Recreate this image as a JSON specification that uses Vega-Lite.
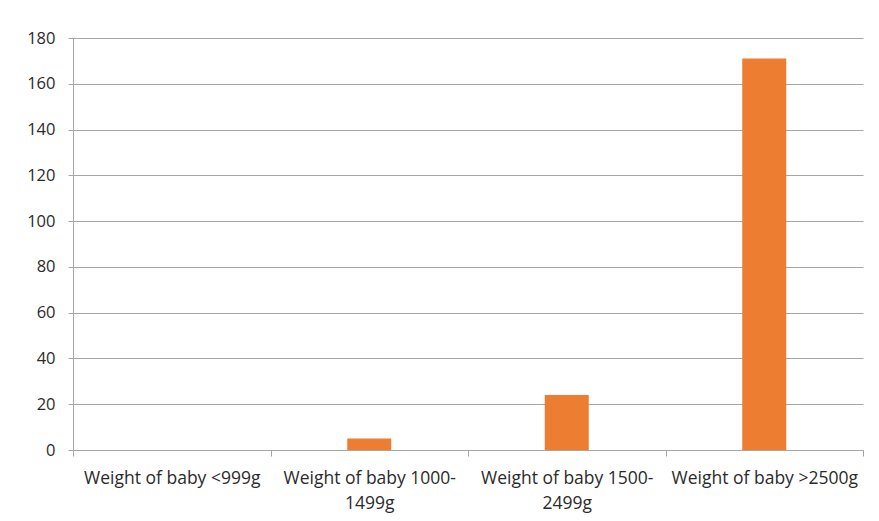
{
  "$schema": "https://vega.github.io/schema/vega-lite/v6.json",
  "width": 790,
  "height": 412,
  "autosize": {"type": "none"},
  "padding": {"left": 73, "top": 38, "right": 16, "bottom": 71},
  "background": "white",
  "config": {
    "view": {"stroke": null},
    "font": "Open Sans",
    "axis": {"labelFont": "Open Sans", "labelColor": "#2b2b2b"}
  },
  "data": {
    "values": [
      {"category": "Weight of baby <999g", "count": 0},
      {"category": "Weight of baby 1000-1499g", "count": 5},
      {"category": "Weight of baby 1500-2499g", "count": 24},
      {"category": "Weight of baby >2500g", "count": 171}
    ]
  },
  "mark": {"type": "bar", "color": "#ED7D31", "size": 44},
  "encoding": {
    "x": {
      "field": "category",
      "type": "nominal",
      "sort": null,
      "scale": {"paddingInner": 0, "paddingOuter": 0},
      "axis": {
        "title": null,
        "labelAngle": 0,
        "labelLimit": 0,
        "labelFontSize": 17.5,
        "labelPadding": 13,
        "labelBaseline": "top",
        "labelLineHeight": 25,
        "labelExpr": "split(replace(datum.label, '-', '-|'), '|')",
        "tickBand": "extent",
        "tickColor": "#A6A6A6",
        "tickSize": 6,
        "domainColor": "#A6A6A6",
        "grid": false
      }
    },
    "y": {
      "field": "count",
      "type": "quantitative",
      "scale": {"domain": [0, 180], "nice": false},
      "axis": {
        "title": null,
        "values": [0, 20, 40, 60, 80, 100, 120, 140, 160, 180],
        "labelFontSize": 16.5,
        "grid": true,
        "gridColor": "#A6A6A6",
        "tickColor": "#A6A6A6",
        "tickSize": 5,
        "domainColor": "#A6A6A6",
        "labelPadding": 13
      }
    }
  }
}
